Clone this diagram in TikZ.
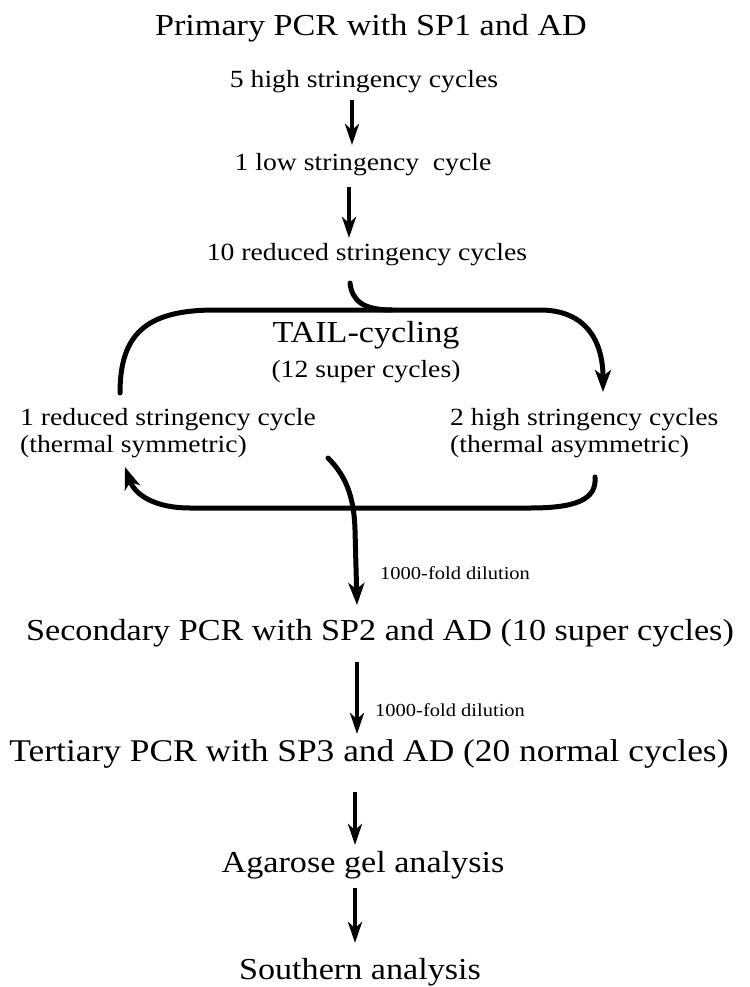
\documentclass[tikz,border=0pt]{standalone}
\usepackage{fontspec}
\setmainfont[FakeStretch=1.12]{Liberation Serif}
\usetikzlibrary{arrows.meta}
\begin{document}
\begin{tikzpicture}[x=1pt,y=-1pt,
  big/.style={font=\fontsize{30.5}{36}\selectfont, inner sep=0pt},
  small/.style={font=\fontsize{24.7}{30}\selectfont, inner sep=0pt},
  tiny/.style={font=\fontsize{18.3}{22}\selectfont, inner sep=0pt},
  arr/.style={line width=4pt, -{Stealth[length=21pt,width=14pt,inset=6pt]}},
  lp/.style={line width=5pt, line cap=round},
  lparr/.style={lp, -{Stealth[length=22pt,width=16pt,inset=6pt]}}]
\useasboundingbox (0,0) rectangle (749,987);
\fill[white] (0,0) rectangle (749,987);

% texts
\node[big]   (title) at (371,28)  {Primary PCR with SP1 and AD};
\node[small] (t1)    at (364,82)  {5 high stringency cycles};
\node[small] (t2)    at (363,165) {1 low stringency\ \ cycle};
\node[small] (t3)    at (367,255) {10 reduced stringency cycles};
\node[big]   (tail)  at (366,335) {TAIL-cycling};
\node[small] (super) at (366,372) {(12 super cycles)};
\node[small,anchor=west] (l1) at (20,420) {1 reduced stringency cycle};
\node[small,anchor=west] (l2) at (20,447) {(thermal symmetric)};
\node[small,anchor=west] (r1) at (450,420) {2 high stringency cycles};
\node[small,anchor=west] (r2) at (450,447) {(thermal asymmetric)};
\node[tiny,anchor=west]  (d1) at (380,573) {1000-fold dilution};
\node[big]   (sec)   at (380,633) {Secondary PCR with SP2 and AD (10 super cycles)};
\node[tiny,anchor=west]  (d2) at (375,710) {1000-fold dilution};
\node[big,font=\fontsize{31.6}{37}\selectfont] (ter) at (369,754) {Tertiary PCR with SP3 and AD (20 normal cycles)};
\node[big]   (aga)   at (363,865) {Agarose gel analysis};
\node[big]   (sou)   at (360,972) {Southern analysis};

% arrow end points
\coordinate (a1s) at (352,100); \coordinate (a1e) at (352,145);
\coordinate (a2s) at (349,187); \coordinate (a2e) at (349,238);
\coordinate (a3s) at (357,662); \coordinate (a3e) at (357,734);
\coordinate (a4s) at (355,792); \coordinate (a4e) at (355,845);
\coordinate (a5s) at (355,888); \coordinate (a5e) at (355,943);

\draw[arr] (a1s) -- (a1e);
\draw[arr] (a2s) -- (a2e);
\draw[arr] (a3s) -- (a3e);
\draw[arr] (a4s) -- (a4e);
\draw[arr] (a5s) -- (a5e);

% loop
\coordinate (cin)  at (350,283);
\coordinate (ltop) at (120,393);
\coordinate (rtip) at (603,392);
\coordinate (rbot) at (595,477);
\coordinate (ltip) at (125,467);
\coordinate (xs)   at (328,458);
\coordinate (xe)   at (357,605);

\draw[lp] (cin) .. controls (352,300) and (362,310) .. (392,310);
\draw[lparr] (ltop) .. controls (120,335) and (145,310) .. (215,310)
   -- (540,310) .. controls (585,310) and (603,340) .. (rtip);
\draw[lparr] (rbot) .. controls (597,500) and (575,508) .. (530,508)
   -- (190,508) .. controls (155,508) and (135,495) .. (ltip);
\draw[lparr] (xs) .. controls (345,475) and (354,495) .. (355,530) -- (xe);
\end{tikzpicture}
\end{document}
